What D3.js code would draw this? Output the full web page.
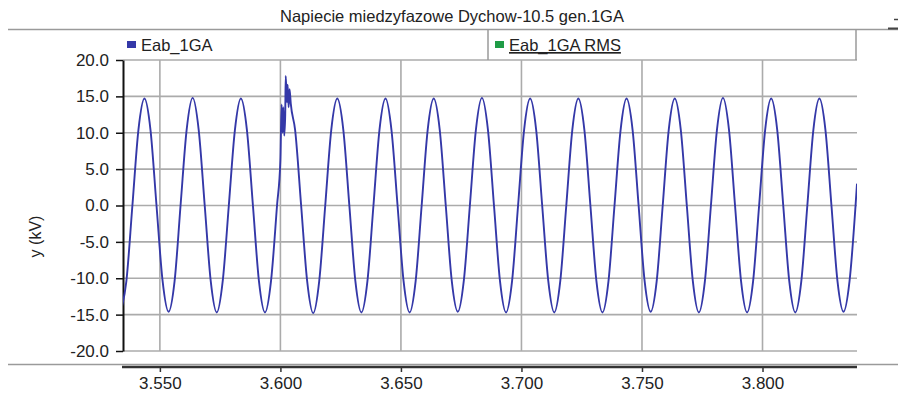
<!DOCTYPE html>
<html>
<head>
<meta charset="utf-8">
<script src="https://cdn.jsdelivr.net/npm/d3@7"></script>
<style>
  body { margin: 0; background: #fff; }
  text { font-family: "Liberation Sans", Arial, sans-serif; fill: #222; }
</style>
</head>
<body>
<svg id="chart"></svg>
<script>
// Chart texts
const chartTitle = 'Napiecie miedzyfazowe Dychow-10.5 gen.1GA';
const yLabel = 'y (kV)';
const seriesNames = ['Eab_1GA', 'Eab_1GA RMS'];
const seriesColors = ['#3438a8', '#1f9c46'];

// Axis ticks
const yTicks = [-20, -15, -10, -5, 0, 5, 10, 15, 20];
const xTicks = [3.55, 3.6, 3.65, 3.7, 3.75, 3.8];
const xDomain = [3.5347, 3.8392];

// Eab_1GA samples (time in s, voltage in kV)
const time = [
  3.5336, 3.5361, 3.5386, 3.5411, 3.5436, 3.5461, 3.5486, 3.5511,
  3.5536, 3.5561, 3.5586, 3.5611, 3.5636, 3.5661, 3.5686, 3.5711,
  3.5736, 3.5761, 3.5786, 3.5811, 3.5836, 3.5861, 3.5886, 3.5911,
  3.5936, 3.5961, 3.5986, 3.6000, 3.6005, 3.6009, 3.6012, 3.6016, 3.6020, 3.6022,
  3.6027, 3.6030, 3.6034, 3.6038, 3.6043, 3.6061, 3.6086, 3.6111,
  3.6136, 3.6161, 3.6186, 3.6211, 3.6236, 3.6261, 3.6286, 3.6311,
  3.6336, 3.6361, 3.6386, 3.6411, 3.6436, 3.6461, 3.6486, 3.6511,
  3.6536, 3.6561, 3.6586, 3.6611, 3.6636, 3.6661, 3.6686, 3.6711,
  3.6736, 3.6761, 3.6786, 3.6811, 3.6836, 3.6861, 3.6886, 3.6911,
  3.6936, 3.6961, 3.6986, 3.7011, 3.7036, 3.7061, 3.7086, 3.7111,
  3.7136, 3.7161, 3.7186, 3.7211, 3.7236, 3.7261, 3.7286, 3.7311,
  3.7336, 3.7361, 3.7386, 3.7411, 3.7436, 3.7461, 3.7486, 3.7511,
  3.7536, 3.7561, 3.7586, 3.7611, 3.7636, 3.7661, 3.7686, 3.7711,
  3.7736, 3.7761, 3.7786, 3.7811, 3.7836, 3.7861, 3.7886, 3.7911,
  3.7936, 3.7961, 3.7986, 3.8011, 3.8036, 3.8061, 3.8086, 3.8111,
  3.8136, 3.8161, 3.8186, 3.8211, 3.8236, 3.8261, 3.8286, 3.8311,
  3.8336, 3.8361, 3.8386, 3.8392
];
const voltage = [
  -14.7, -10.4, 0.0, 10.4, 14.7, 10.4, 0.0, -10.3,
  -14.6, -10.4, 0.1, 10.4, 14.8, 10.4, 0.0, -10.4,
  -14.7, -10.3, 0.0, 10.3, 14.7, 10.4, 0.0, -10.4,
  -14.7, -10.4, 0.0, 6.2, 13.9, 10.0, 13.5, 9.6, 12.5, 17.8,
  14.2, 16.6, 13.5, 16.0, 14.0, 10.4, 0.0, -10.4,
  -14.8, -10.4, 0.0, 10.4, 14.7, 10.4, 0.0, -10.4,
  -14.7, -10.4, 0.0, 10.4, 14.7, 10.3, 0.0, -10.4,
  -14.7, -10.4, 0.0, 10.4, 14.7, 10.4, 0.0, -10.4,
  -14.6, -10.3, 0.0, 10.4, 14.8, 10.4, 0.0, -10.4,
  -14.7, -10.4, 0.0, 10.4, 14.7, 10.4, 0.0, -10.3,
  -14.7, -10.4, 0.0, 10.4, 14.7, 10.4, 0.0, -10.4,
  -14.7, -10.4, 0.0, 10.3, 14.7, 10.4, 0.0, -10.4,
  -14.6, -10.4, 0.0, 10.4, 14.7, 10.4, 0.0, -10.4,
  -14.7, -10.4, 0.0, 10.4, 14.8, 10.4, 0.0, -10.4,
  -14.7, -10.4, 0.0, 10.4, 14.7, 10.4, 0.0, -10.4,
  -14.7, -10.4, 0.0, 10.4, 14.7, 10.4, 0.0, -10.4,
  -14.6, -10.4, 0.0, 3.0
];

const width = 898, height = 393;
const plot = { left: 123, right: 857, top: 60, bottom: 351 };
const gridColor = '#ababab';
const labelFont = '17px';

const svg = d3.select('#chart').attr('width', width).attr('height', height);

const x = d3.scaleLinear().domain(xDomain).range([plot.left, plot.right]);
const y = d3.scaleLinear().domain([-20, 20]).range([plot.bottom, plot.top]);

// Title and the separator lines
svg.append('text')
  .attr('x', 452).attr('y', 22)
  .attr('text-anchor', 'middle')
  .style('font-size', '16.5px')
  .text(chartTitle);

svg.append('line')
  .attr('x1', 8).attr('x2', 898).attr('y1', 29.5).attr('y2', 29.5)
  .style('stroke', '#9a9a9a').style('stroke-width', 1.5);
svg.append('line')
  .attr('x1', 888).attr('x2', 898).attr('y1', 28.5).attr('y2', 28.5)
  .style('stroke', '#444').style('stroke-width', 2);
svg.append('line')
  .attr('x1', 894).attr('x2', 898).attr('y1', 19.5).attr('y2', 19.5)
  .style('stroke', '#444').style('stroke-width', 1.5);
svg.append('line')
  .attr('x1', 8).attr('x2', 898).attr('y1', 364.5).attr('y2', 364.5)
  .style('stroke', '#9a9a9a').style('stroke-width', 1.5);

// Grid
svg.append('g').selectAll('line')
  .data(yTicks)
  .enter().append('line')
  .attr('x1', plot.left).attr('x2', plot.right)
  .attr('y1', d => y(d)).attr('y2', d => y(d))
  .style('stroke', gridColor).style('stroke-width', 1.6);

svg.append('g').selectAll('line')
  .data(xTicks)
  .enter().append('line')
  .attr('x1', d => x(d)).attr('x2', d => x(d))
  .attr('y1', plot.top).attr('y2', plot.bottom)
  .style('stroke', gridColor).style('stroke-width', 1.6);

// Legend
svg.append('line')
  .attr('x1', 488).attr('x2', 488).attr('y1', 30).attr('y2', 60)
  .style('stroke', '#9a9a9a').style('stroke-width', 1.5);
svg.append('line')
  .attr('x1', 856).attr('x2', 856).attr('y1', 30).attr('y2', 60)
  .style('stroke', '#9a9a9a').style('stroke-width', 1.5);

const legendX = [127, 495];
const legend = svg.append('g').selectAll('g')
  .data(seriesNames)
  .enter().append('g')
  .attr('transform', (d, i) => 'translate(' + legendX[i] + ',41)');
legend.append('rect')
  .attr('width', 9).attr('height', 7)
  .style('fill', (d, i) => seriesColors[i]);
legend.append('text')
  .attr('x', 14).attr('y', 10)
  .style('font-size', '16.5px')
  .style('text-decoration', (d, i) => i === 1 ? 'underline' : 'none')
  .text(d => d);

// Y axis
const yAxis = d3.axisLeft(y).tickValues(yTicks).tickSize(7).tickSizeOuter(0)
  .tickFormat(d => d.toFixed(1));
const gy = svg.append('g').attr('transform', 'translate(' + plot.left + ',0)').call(yAxis);
gy.select('.domain').style('stroke', '#111').style('stroke-width', 2);
gy.selectAll('.tick line').style('stroke', '#111').style('stroke-width', 1.5);
gy.selectAll('.tick text')
  .attr('x', -14)
  .style('font-size', labelFont)
  .style('font-family', '"Liberation Sans", Arial, sans-serif')
  .style('fill', '#222');

svg.append('text')
  .attr('transform', 'translate(41,' + ((plot.top + plot.bottom) / 2 + 31) + ') rotate(-90)')
  .attr('text-anchor', 'middle')
  .style('font-size', '16px')
  .text(yLabel);

// X axis (below the separator line)
const xAxis = d3.axisBottom(x).tickValues(xTicks).tickSize(5).tickSizeOuter(0)
  .tickFormat(d => d.toFixed(3));
const gx = svg.append('g').attr('transform', 'translate(0,367)').call(xAxis);
gx.select('.domain').remove();
gx.append('line')
  .attr('x1', plot.left - 1).attr('x2', plot.right)
  .style('stroke', '#333').style('stroke-width', 2.5);
gx.selectAll('.tick line').style('stroke', '#333').style('stroke-width', 1.5);
gx.selectAll('.tick text')
  .attr('y', 10)
  .style('font-size', labelFont)
  .style('font-family', '"Liberation Sans", Arial, sans-serif')
  .style('fill', '#222');

// Waveform
svg.append('clipPath').attr('id', 'plotClip')
  .append('rect')
  .attr('x', plot.left).attr('y', 0)
  .attr('width', plot.right - plot.left).attr('height', height);

const line = d3.line()
  .x(i => x(time[i]))
  .y(i => y(voltage[i]))
  .curve(d3.curveMonotoneX);

svg.append('path')
  .datum(d3.range(time.length))
  .attr('clip-path', 'url(#plotClip)')
  .attr('d', line)
  .style('fill', 'none')
  .style('stroke', seriesColors[0])
  .style('stroke-width', 1.9);
</script>
</body>
</html>
